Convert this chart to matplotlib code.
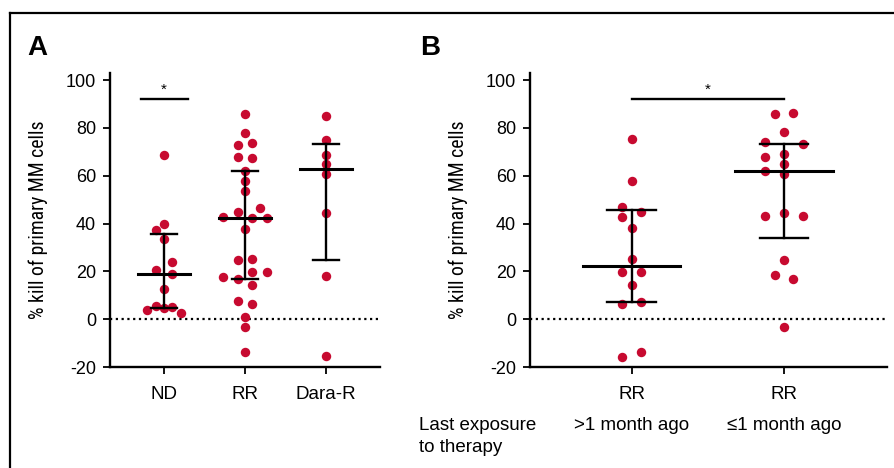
import matplotlib
matplotlib.use("Agg")
import matplotlib.pyplot as plt
from matplotlib.lines import Line2D
import matplotlib.transforms as mtransforms

plt.rcParams['font.family'] = ['Liberation Sans', 'DejaVu Sans']

# ---------------- data ----------------
catsA = ["ND", "RR", "Dara-R"]
nd_vals = [68.7, 39.7, 37.3, 33.7, 23.8, 20.6, 18.8, 12.7, 5.7, 5.0, 4.6, 3.9, 2.5]
nd_slot = [0, 0, -1, 0, 1, -1, 1, 0, -1, 1, 0, -2, 2]
rr_vals = [85.7, 77.7, 73.7, 72.7, 67.7, 67.3, 62.0, 57.7, 53.6, 46.5, 44.8, 42.9,
           42.5, 42.5, 37.9, 24.9, 25.1, 19.6, 19.6, 17.8, 16.9, 14.2, 7.5, 6.5,
           1.0, -3.2, -13.9]
rr_slot = [0, 0, 1, -1, -1, 1, 0, 0, 0, 2, -1, -3, 1, 3, 0, -1, 1, 1, 3, -3, -1,
           1, -1, 1, 0, 0, 0]
dara_vals = [85.2, 74.9, 68.8, 64.8, 60.7, 44.4, 18.1, -15.6]
dara_slot = [0, 0, 0, 0, 0, 0, 0, 0]
medA = [19.1, 42.5, 62.7]
q1A = [4.6, 16.9, 24.8]
q3A = [35.8, 62.0, 73.5]

catsB = ["RR", "RR"]
subB = [">1 month ago", "\u22641 month ago"]
g1_vals = [75.2, 57.9, 46.9, 45.0, 42.6, 38.3, 25.3, 19.8, 19.8, 14.1, 7.4, 6.4,
           -13.8, -15.7]
g1_slot = [0, 0, -1, 1, -1, 0, 0, -1, 1, 0, 1, -1, 1, -1]
g2_vals = [85.7, 86.2, 78.3, 74.0, 73.1, 69.1, 68.0, 64.8, 62.1, 60.9, 43.0, 44.4,
           43.2, 24.9, 18.4, 17.0, -3.2]
g2_slot = [-1, 1, 0, -2, 2, 0, -2, 0, -2, 0, -2, 0, 2, 0, -1, 1, 0]
medB = [22.3, 62.2]
q1B = [7.1, 33.8]
q3B = [45.6, 73.5]

yticks = [-20, 0, 20, 40, 60, 80, 100]
ylabel = "% kill of primary MM cells"
sigA = (0, 0, 92.0)   # bar from group, to group, height
sigB = (0, 1, 92.0)

# ---------------- style ----------------
RED = "#C70A30"
W, H = 895, 468
fig = plt.figure(figsize=(W / 100, H / 100), dpi=100)

def fx(px):
    return px / W

def fy(py):
    return 1 - py / H

# frame lines
fig.add_artist(Line2D([fx(10), 1.0], [fy(13), fy(13)], color="black", lw=1.6,
                      transform=fig.transFigure))
fig.add_artist(Line2D([fx(10), fx(10)], [fy(13), 0.0], color="black", lw=1.6,
                      transform=fig.transFigure))

narrow = ['Roboto Condensed', 'Liberation Sans Narrow', 'Arial Narrow',
          'Liberation Sans', 'DejaVu Sans']


def setup(ax, xlim, ncat, labels):
    ax.set_ylim(-20, 103)
    ax.set_xlim(*xlim)
    for s in ["top", "right"]:
        ax.spines[s].set_visible(False)
    for s in ["left", "bottom"]:
        ax.spines[s].set_linewidth(1.7)
    ax.set_yticks(yticks)
    ax.set_yticklabels([str(v) for v in yticks])
    ax.tick_params(axis="y", length=5, width=1.3, labelsize=13, pad=5)
    ax.set_xticks(range(ncat))
    ax.set_xticklabels(labels)
    ax.tick_params(axis="x", length=5, width=1.3, labelsize=13.5, pad=9)
    ax.axhline(0, color="black", lw=1.6, ls=(0, (1, 1.6)), zorder=1)
    ax.set_ylabel(ylabel, family=narrow, fontsize=14.2, fontweight="normal")
    ax.yaxis.set_label_coords(-62 / (ax.get_position().width * W), 0.5)


def draw_group(ax, xc, vals, slots, med, q1, q3, step):
    xs = [xc + s * step for s in slots]
    ax.plot(xs, vals, "o", color=RED, ms=6.8, mec="none", zorder=3)
    ax.plot([xc, xc], [q1, q3], color="black", lw=1.7, zorder=4)
    ax.plot([xc - 0.16, xc + 0.16], [q1, q1], color="black", lw=1.7, zorder=4)
    ax.plot([xc - 0.16, xc + 0.16], [q3, q3], color="black", lw=1.7, zorder=4)
    ax.plot([xc - 0.32, xc + 0.32], [med, med], color="black", lw=2.2, zorder=4)


# ---------- Panel A ----------
axA = fig.add_axes([fx(110), fy(367), fx(380) - fx(110), fy(73) - fy(367)])
setup(axA, (-0.667, 2.667), 3, catsA)
stepA = 0.09
draw_group(axA, 0, nd_vals, nd_slot, medA[0], q1A[0], q3A[0], stepA * 1.15)
draw_group(axA, 1, rr_vals, rr_slot, medA[1], q1A[1], q3A[1], stepA)
draw_group(axA, 2, dara_vals, dara_slot, medA[2], q1A[2], q3A[2], stepA)
a0, a1, ah = sigA
axA.plot([a0 - 0.29, a1 + 0.29], [ah, ah], color="black", lw=1.7)
axA.text((a0 + a1) / 2, ah + 1.2, "*", ha="center", va="bottom", fontsize=11)

# ---------- Panel B ----------
axB = fig.add_axes([fx(530), fy(367), fx(887) - fx(530), fy(73) - fy(367)])
setup(axB, (-0.668, 1.676), 2, catsB)
stepB = 0.061
draw_group(axB, 0, g1_vals, g1_slot, medB[0], q1B[0], q3B[0], stepB)
draw_group(axB, 1, g2_vals, g2_slot, medB[1], q1B[1], q3B[1], stepB)
b0, b1, bh = sigB
axB.plot([b0, b1], [bh, bh], color="black", lw=1.7)
axB.text((b0 + b1) / 2, bh + 1.2, "*", ha="center", va="bottom", fontsize=11)

trB = mtransforms.blended_transform_factory(axB.transData, fig.transFigure)
for i, s in enumerate(subB):
    axB.text(i, fy(430), s, transform=trB, ha="center", va="baseline", fontsize=13.5)
fig.text(fx(419), fy(430), "Last exposure", ha="left", va="baseline", fontsize=13.5)
fig.text(fx(419), fy(452), "to therapy", ha="left", va="baseline", fontsize=13.5)

# panel letters
fig.text(fx(27), fy(55), "A", fontsize=20, fontweight="bold", ha="left", va="baseline")
fig.text(fx(420), fy(55), "B", fontsize=20, fontweight="bold", ha="left", va="baseline")

fig.savefig("out.png", dpi=100)
